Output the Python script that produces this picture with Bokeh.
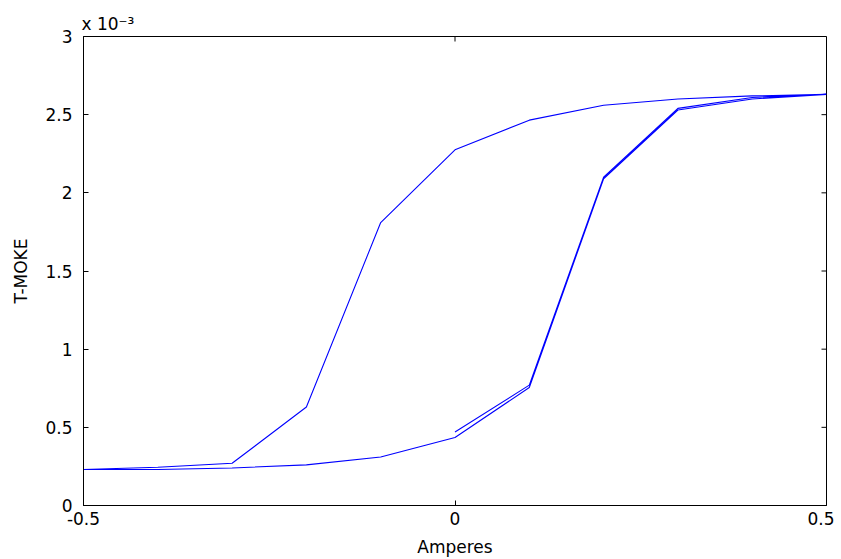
import math
from bokeh.plotting import figure
from bokeh.models import FixedTicker, CustomJSTickFormatter, Range1d
from bokeh.embed import file_html
from bokeh.resources import INLINE

# Hysteresis loop: initial branch (0 -> 0.5), descending (0.5 -> -0.5), ascending (-0.5 -> 0.5)
init_x = [0.0, 0.1, 0.2, 0.3, 0.4, 0.5]
init_y = [0.47e-3, 0.77e-3, 2.10e-3, 2.54e-3, 2.61e-3, 2.63e-3]

down_x = [0.4, 0.3, 0.2, 0.1, 0.0, -0.1, -0.2, -0.3, -0.4, -0.5]
down_y = [2.62e-3, 2.60e-3, 2.56e-3, 2.465e-3, 2.275e-3, 1.81e-3, 0.63e-3, 0.27e-3, 0.245e-3, 0.23e-3]

up_x = [-0.4, -0.3, -0.2, -0.1, 0.0, 0.1, 0.2, 0.3, 0.4, 0.5]
up_y = [0.23e-3, 0.24e-3, 0.26e-3, 0.31e-3, 0.435e-3, 0.755e-3, 2.09e-3, 2.53e-3, 2.60e-3, 2.63e-3]

x_ticks = [-0.5, 0.0, 0.5]
y_ticks = [0.0, 0.5e-3, 1.0e-3, 1.5e-3, 2.0e-3, 2.5e-3, 3.0e-3]
x_label = "Amperes"
y_label = "T-MOKE"
scale_text = "x 10\u207b\u00b3"

xs = init_x + down_x + up_x
ys = init_y + down_y + up_y

FONT = "DejaVu Sans"
FS = "17px"

p = figure(width=834, height=559, output_backend="svg", toolbar_location=None,
           x_range=Range1d(x_ticks[0], x_ticks[-1]), y_range=Range1d(y_ticks[0], y_ticks[-1]),
           min_border_left=83, min_border_right=8, min_border_top=36, min_border_bottom=52,
           background_fill_color="white", border_fill_color="white")
p.xgrid.visible = False
p.ygrid.visible = False
p.outline_line_color = "black"
p.outline_line_width = 1

p.title.text = scale_text
p.title.align = "left"
p.title.offset = -2
p.title.standoff = 6
p.title.text_font = FONT
p.title.text_font_size = FS
p.title.text_font_style = "normal"
p.title.text_color = "black"

p.line(xs, ys, line_color="#0000ff", line_width=1.1)

# inward ticks on the top and right edges of the box
p.ray(x=x_ticks, y=[y_ticks[-1]] * len(x_ticks), length=5, length_units="screen",
      angle=-math.pi / 2, line_color="black", line_width=1)
p.ray(x=[x_ticks[-1]] * len(y_ticks), y=y_ticks, length=5, length_units="screen",
      angle=math.pi, line_color="black", line_width=1)

for ax in p.xaxis:
    ax.ticker = FixedTicker(ticks=x_ticks)
    ax.formatter = CustomJSTickFormatter(code="return String(Math.round(tick*10)/10);")
    ax.axis_label = x_label
for ax in p.yaxis:
    ax.ticker = FixedTicker(ticks=y_ticks)
    ax.formatter = CustomJSTickFormatter(code="return String(Math.round(tick*1e4)/10);")
    ax.axis_label = y_label

for ax in list(p.xaxis) + list(p.yaxis):
    ax.major_tick_in = 5
    ax.major_tick_out = 0
    ax.minor_tick_line_color = None
    ax.axis_line_color = "black"
    ax.major_tick_line_color = "black"
    ax.major_label_text_font = FONT
    ax.major_label_text_font_size = FS
    ax.major_label_text_color = "black"
    ax.axis_label_text_font = FONT
    ax.axis_label_text_font_size = FS
    ax.axis_label_text_font_style = "normal"
    ax.axis_label_text_color = "black"

p.xaxis.major_label_standoff = 6
p.xaxis.axis_label_standoff = 9
p.yaxis.major_label_standoff = 11
p.yaxis.axis_label_standoff = 11

open("out.html", "w").write(file_html(p, INLINE))
